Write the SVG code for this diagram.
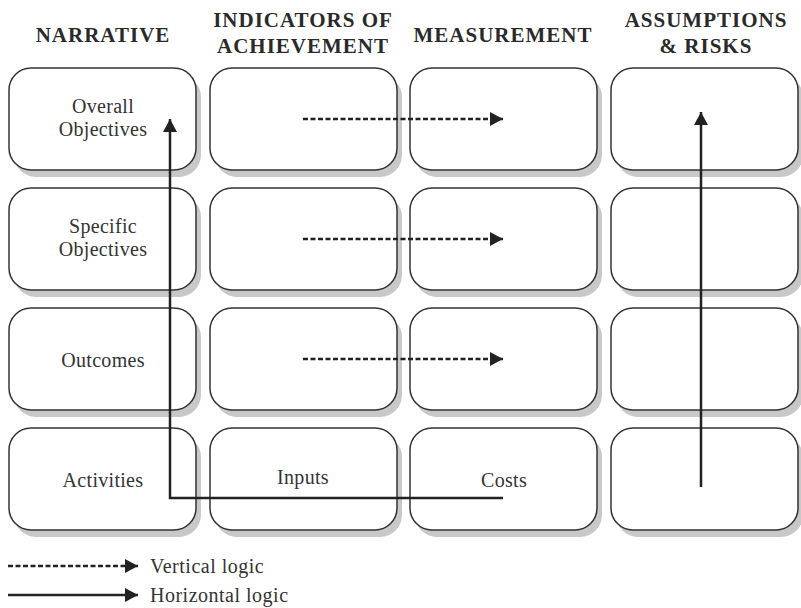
<svg xmlns="http://www.w3.org/2000/svg" width="801" height="608" viewBox="0 0 801 608">
<style>
.hdr{font-family:"Liberation Serif","Times New Roman",serif;font-weight:bold;font-size:21px;letter-spacing:1px;fill:#2a2a2a;text-anchor:middle}
.lbl{font-family:"Liberation Serif","Times New Roman",serif;font-size:20px;letter-spacing:0.3px;fill:#333;text-anchor:middle}
.leg{font-family:"Liberation Serif","Times New Roman",serif;font-size:20px;letter-spacing:0.5px;fill:#333}
.box{fill:#fff;stroke:#333;stroke-width:1.5}
.sh{fill:#c8c8c8;stroke:none}
.dash{stroke:#222;stroke-width:2.5;stroke-dasharray:5 2.5;fill:none}
.solid{stroke:#222;stroke-width:2.5;fill:none}
</style>
<defs>
<marker id="ah" markerWidth="14" markerHeight="14" refX="13" refY="7" orient="auto" markerUnits="userSpaceOnUse">
<path d="M0,0 L13,7 L0,14 Z" fill="#222"/>
</marker>
</defs>
<rect width="801" height="608" fill="#fff"/>
<g id="headers">
<text class="hdr" x="103" y="42">NARRATIVE</text>
<text class="hdr" x="303" y="27">INDICATORS OF</text>
<text class="hdr" x="303" y="53">ACHIEVEMENT</text>
<text class="hdr" x="503" y="42">MEASUREMENT</text>
<text class="hdr" x="706" y="27">ASSUMPTIONS</text>
<text class="hdr" x="706" y="53">&amp; RISKS</text>
</g>
<g id="shadows">
<rect class="sh" x="14" y="75" width="187" height="102" rx="22"/>
<rect class="sh" x="215" y="75" width="187" height="102" rx="22"/>
<rect class="sh" x="415" y="75" width="187" height="102" rx="22"/>
<rect class="sh" x="616" y="75" width="187" height="102" rx="22"/>
<rect class="sh" x="14" y="195" width="187" height="102" rx="22"/>
<rect class="sh" x="215" y="195" width="187" height="102" rx="22"/>
<rect class="sh" x="415" y="195" width="187" height="102" rx="22"/>
<rect class="sh" x="616" y="195" width="187" height="102" rx="22"/>
<rect class="sh" x="14" y="315" width="187" height="102" rx="22"/>
<rect class="sh" x="215" y="315" width="187" height="102" rx="22"/>
<rect class="sh" x="415" y="315" width="187" height="102" rx="22"/>
<rect class="sh" x="616" y="315" width="187" height="102" rx="22"/>
<rect class="sh" x="14" y="435" width="187" height="102" rx="22"/>
<rect class="sh" x="215" y="435" width="187" height="102" rx="22"/>
<rect class="sh" x="415" y="435" width="187" height="102" rx="22"/>
<rect class="sh" x="616" y="435" width="187" height="102" rx="22"/>
</g>
<g id="n-overall"><rect class="box" x="9" y="68" width="187" height="102" rx="22"/><text class="lbl" x="103" y="113">Overall</text><text class="lbl" x="103" y="136">Objectives</text></g>
<g id="n-ind1"><rect class="box" x="210" y="68" width="187" height="102" rx="22"/></g>
<g id="n-meas1"><rect class="box" x="410" y="68" width="187" height="102" rx="22"/></g>
<g id="n-ass1"><rect class="box" x="611" y="68" width="187" height="102" rx="22"/></g>
<g id="n-specific"><rect class="box" x="9" y="188" width="187" height="102" rx="22"/><text class="lbl" x="103" y="233">Specific</text><text class="lbl" x="103" y="256">Objectives</text></g>
<g id="n-ind2"><rect class="box" x="210" y="188" width="187" height="102" rx="22"/></g>
<g id="n-meas2"><rect class="box" x="410" y="188" width="187" height="102" rx="22"/></g>
<g id="n-ass2"><rect class="box" x="611" y="188" width="187" height="102" rx="22"/></g>
<g id="n-outcomes"><rect class="box" x="9" y="308" width="187" height="102" rx="22"/><text class="lbl" x="103" y="367">Outcomes</text></g>
<g id="n-ind3"><rect class="box" x="210" y="308" width="187" height="102" rx="22"/></g>
<g id="n-meas3"><rect class="box" x="410" y="308" width="187" height="102" rx="22"/></g>
<g id="n-ass3"><rect class="box" x="611" y="308" width="187" height="102" rx="22"/></g>
<g id="n-activities"><rect class="box" x="9" y="428" width="187" height="102" rx="22"/><text class="lbl" x="103" y="487">Activities</text></g>
<g id="n-inputs"><rect class="box" x="210" y="428" width="187" height="102" rx="22"/><text class="lbl" x="303" y="484">Inputs</text></g>
<g id="n-costs"><rect class="box" x="410" y="428" width="187" height="102" rx="22"/><text class="lbl" x="504" y="487">Costs</text></g>
<g id="n-ass4"><rect class="box" x="611" y="428" width="187" height="102" rx="22"/></g>
<g id="connectors">
<line class="dash" x1="303" y1="119" x2="503" y2="119" marker-end="url(#ah)"/>
<line class="dash" x1="303" y1="239" x2="503" y2="239" marker-end="url(#ah)"/>
<line class="dash" x1="303" y1="359" x2="503" y2="359" marker-end="url(#ah)"/>
<polyline class="solid" points="503,498 170,498 170,119" marker-end="url(#ah)"/>
<line class="solid" x1="701" y1="487" x2="701" y2="112" marker-end="url(#ah)"/>
</g>
<g id="legend">
<line class="dash" x1="8" y1="566" x2="138" y2="566" marker-end="url(#ah)"/>
<text class="leg" x="150" y="573">Vertical logic</text>
<line class="solid" x1="8" y1="595" x2="138" y2="595" marker-end="url(#ah)"/>
<text class="leg" x="150" y="602">Horizontal logic</text>
</g>
</svg>
